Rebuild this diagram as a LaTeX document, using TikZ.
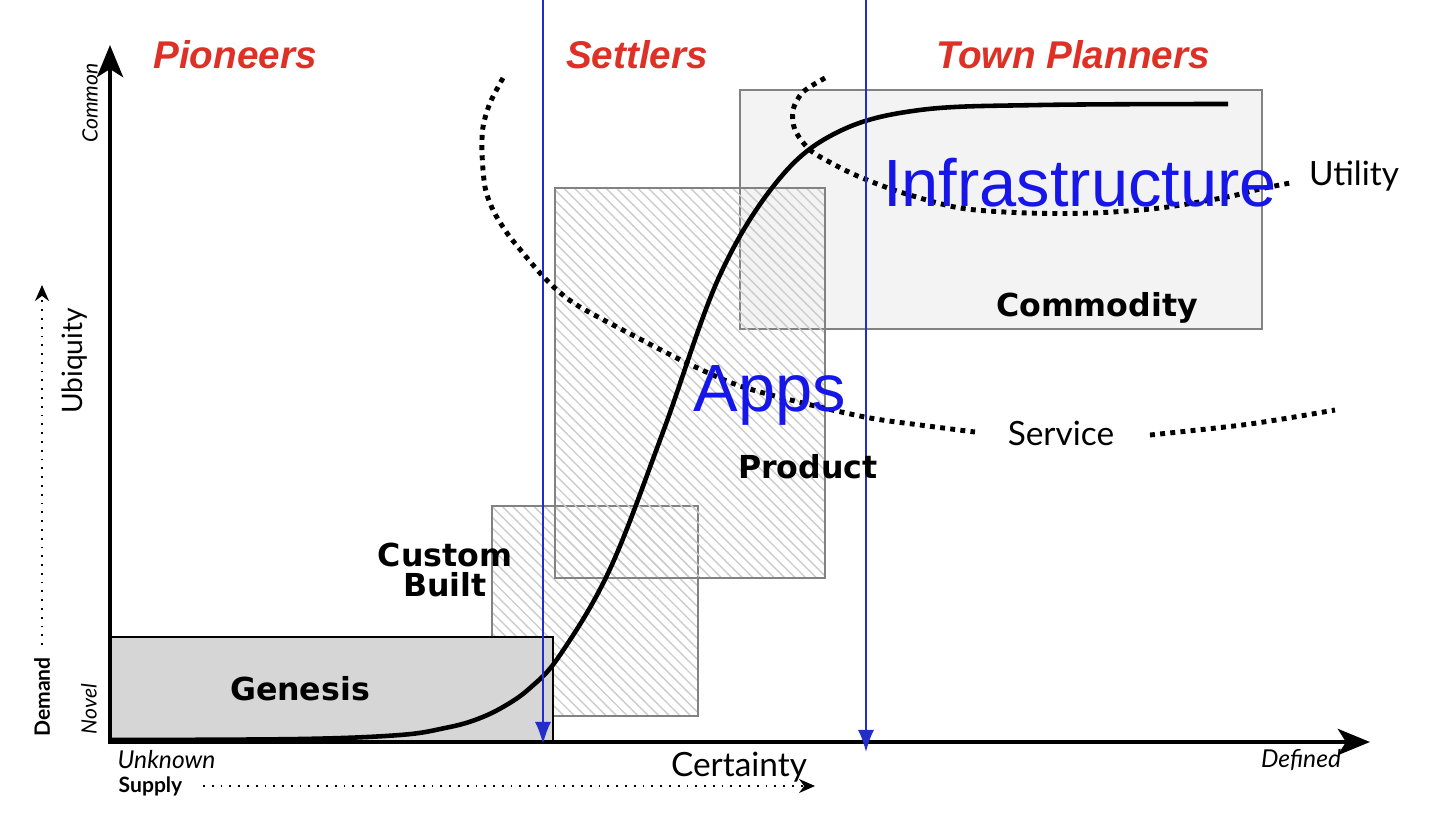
\documentclass[tikz,border=0pt]{standalone}
\usepackage{fontspec}
\setmainfont{Lato}
\newfontfamily\arialfont{Liberation Sans}
\newfontfamily\widefont{DejaVu Sans}
\usetikzlibrary{arrows.meta,positioning,patterns}
\definecolor{PhaseRed}{RGB}{221,48,38}
\definecolor{MarkBlue}{RGB}{22,22,232}
\definecolor{LineBlue}{RGB}{35,45,200}
\definecolor{BoxGray}{RGB}{214,214,214}
\definecolor{PaleGray}{RGB}{243,243,243}
\definecolor{EdgeGray}{RGB}{130,130,130}

\begin{document}
\begin{tikzpicture}[x=0.01cm, y=-0.01cm, every node/.style={inner sep=0pt},
  phase/.style={font=\arialfont\fontsize{11}{13}\selectfont\bfseries\itshape, text=PhaseRed},
  layer/.style={font=\arialfont\fontsize{19}{21}\selectfont, text=MarkBlue},
  stage/.style={font=\widefont\fontsize{9}{8.6}\selectfont\bfseries},
  hatchbox/.style={draw=EdgeGray, line width=0.6pt, pattern=north west lines, pattern color=gray!40},
  dotline/.style={line width=1.4pt, dash pattern=on 1.4pt off 1.5pt},
  divider/.style={LineBlue, line width=0.5pt, -{Latex[length=2.2mm,width=1.6mm]}},
  hint/.style={dotted, line width=0.5pt, -{Stealth[length=1.6mm,width=1.4mm]}}]
\useasboundingbox (0,0) rectangle (1456,827);

% stage boxes
\draw[fill=PaleGray, draw=EdgeGray, line width=0.6pt] (740,90) rectangle (1262,329);
\draw[hatchbox] (492,506) rectangle (698,716);
\draw[hatchbox] (555,188) rectangle (825,578);
\draw[fill=BoxGray, line width=0.8pt] (110,637) rectangle (553,742);

% service / utility boundaries
\draw[dotline] plot[smooth] coordinates {(503,78) (490,103) (483,127) (482,153) (485,187) (493,210) (507,233) (523,253) (540,273) (557,290) (580,307) (640,339) (687,363) (740,386) (807,404) (870,418) (920,425) (975,432)};
\draw[dotline] plot[smooth] coordinates {(1150,435) (1250,424) (1335,410)};
\draw[dotline] plot[smooth] coordinates {(825,78) (803,92) (793,110) (795,130) (810,150) (835,165) (860,177) (900,192) (960,208) (1027,213) (1093,213) (1160,208) (1227,197) (1260,189) (1290,183)};

% evolution curve
\draw[line width=1.3pt] plot[smooth, tension=0.6] coordinates {(110,740) (300,739) (400,735) (445,728) (475,720) (503,707) (530,688) (560,655) (610,569) (663,432) (720,275) (780,178) (840,131) (920,110) (1040,105) (1228,104)};

% axes
\coordinate (origin) at (110,742);
\coordinate (ytip) at (110,45);
\coordinate (xtip) at (1370,742);
\draw[line width=1.4pt, -{Stealth[length=3.2mm,width=2.6mm,inset=0.8mm]}] ([yshift=-0.7pt]origin) -- (ytip);
\draw[line width=1.4pt, -{Stealth[length=3.2mm,width=2.6mm,inset=0.8mm]}] ([xshift=-0.7pt]origin) -- (xtip);

% phase dividers
\coordinate (d1top) at (543,0);
\coordinate (d1end) at (543,744);
\coordinate (d2top) at (866,0);
\coordinate (d2end) at (866,752);
\draw[divider] (d1top) -- (d1end);
\draw[divider] (d2top) -- (d2end);

% phases
\node[phase] (pioneers) at (235,55) {Pioneers};
\node[phase] (settlers) at (637,55) {Settlers};
\node[phase] (planners) at (1073,55) {Town Planners};

% stage labels
\node[stage] (genesis) at (300,689) {Genesis};
\node[stage, align=center] (custom) at (445,570) {Custom\\Built};
\node[stage] (product) at (808,467) {Product};
\node[stage] (commodity) at (1097,308) {Commodity};
\node[font=\fontsize{9.5}{11}\selectfont] (utility) at (1354,176) {Utility};
\node[font=\fontsize{9.5}{11}\selectfont] (service) at (1061,433) {Service};

% layers
\node[layer] (infra) at (1080,183) {Infrastructure};
\node[layer] (apps) at (770,395) {Apps};

% axis labels
\node[font=\fontsize{9.5}{11}\selectfont] (certainty) at (739,767) {Certainty};
\node[font=\fontsize{7}{8}\selectfont\itshape, anchor=west] (unknown) at (117,760) {Unknown};
\node[font=\fontsize{7}{8}\selectfont\itshape] (defined) at (1301,760) {Defined};
\node[font=\fontsize{6}{7}\selectfont\bfseries, anchor=west] (supply) at (118,786) {Supply};
\node[font=\fontsize{6}{7}\selectfont\itshape, rotate=90] (common) at (90,103) {Common};
\node[font=\fontsize{8}{10}\selectfont, rotate=90] (ubiquity) at (75,361) {Ubiquity};
\node[font=\fontsize{6}{7}\selectfont\itshape, rotate=90] (novel) at (89,709) {Novel};
\node[font=\fontsize{6}{7}\selectfont\bfseries, rotate=90] (demand) at (42,697) {Demand};

% dotted direction arrows
\coordinate (supplystart) at (203,786);
\coordinate (supplyend) at (815,786);
\coordinate (demandstart) at (42,645);
\coordinate (demandend) at (42,285);
\draw[hint] (supplystart) -- (supplyend);
\draw[hint] (demandstart) -- (demandend);
\end{tikzpicture}
\end{document}
